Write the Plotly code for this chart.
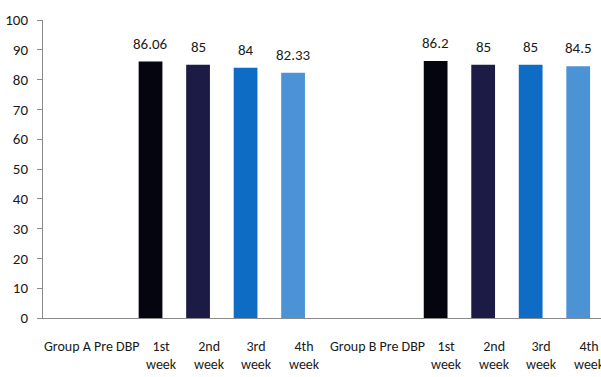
import plotly.graph_objects as go

# Diastolic blood pressure by week for the two groups
group_labels = ["Group A Pre DBP", "Group B Pre DBP"]
week_labels = ["1st<br>week", "2nd<br>week", "3rd<br>week", "4th<br>week"]
group_a_values = [None, 86.06, 85, 84, 82.33]
group_b_values = [None, 86.2, 85, 85, 84.5]
y_ticks = [0, 10, 20, 30, 40, 50, 60, 70, 80, 90, 100]

bar_colors = ["#000000", "#05050f", "#1b1b45", "#0f6cc4", "#4c93d6"]
font_family = "Carlito, Lato, sans-serif"

# Category keys: each group gets a Pre slot plus four weeks, with a spacer between
keys_a = [f"A{i}" for i in range(5)]
keys_b = [f"B{i}" for i in range(5)]
category_order = keys_a + ["gap"] + keys_b
x_keys = keys_a + keys_b
y_vals = group_a_values + group_b_values
colors = bar_colors + bar_colors
tick_text = [group_labels[0]] + week_labels + [group_labels[1]] + week_labels

fig = go.Figure()
fig.add_trace(go.Bar(
    x=x_keys,
    y=y_vals,
    marker=dict(color=colors, line=dict(width=0)),
    width=0.5,
    hoverinfo="skip",
))

annotations = []
# value labels above bars
for k, v in zip(x_keys, y_vals):
    if v is None:
        continue
    annotations.append(dict(
        x=k, y=v, xref="x", yref="y", text=f"{v:g}", showarrow=False,
        yanchor="bottom", yshift=7, font=dict(size=15, color="#1a1a1a", family=font_family),
    ))
# category labels under the axis
for k, t in zip(x_keys, tick_text):
    is_group = t in group_labels
    annotations.append(dict(
        x=k, y=0, xref="x", yref="paper", text=t, showarrow=False,
        yanchor="top", yshift=-18, xshift=-11 if is_group else 11,
        align="center",
        font=dict(size=14, color="#1a1a1a", family=font_family),
    ))

fig.update_layout(
    width=601, height=377,
    margin=dict(l=43, r=0, t=20, b=59),
    paper_bgcolor="white", plot_bgcolor="white",
    showlegend=False,
    bargap=0.5,
    annotations=annotations,
    font=dict(family=font_family, size=15, color="#1a1a1a"),
)
fig.update_xaxes(
    type="category", categoryorder="array", categoryarray=category_order,
    range=[-1.263, 10.48], showticklabels=False, ticks="",
    showline=True, linecolor="#8a8a8a", linewidth=1, showgrid=False, zeroline=False,
)
fig.update_yaxes(
    range=[0, 100], tickvals=y_ticks, ticks="outside", ticklen=5, tickcolor="#8a8a8a",
    ticklabelstandoff=6,
    showline=True, linecolor="#8a8a8a", linewidth=1, showgrid=False, zeroline=False,
    tickfont=dict(size=15, color="#1a1a1a", family=font_family),
)

fig.write_html("out.html")
